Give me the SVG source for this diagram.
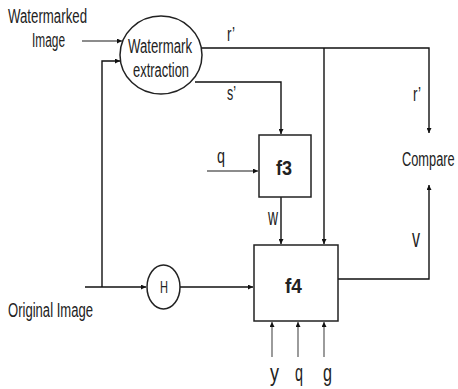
<svg xmlns="http://www.w3.org/2000/svg" width="458" height="389" viewBox="0 0 458 389">
<defs>
<marker id="ah" viewBox="0 0 10 10" refX="10" refY="5" markerWidth="5" markerHeight="5" markerUnits="userSpaceOnUse" orient="auto">
<path d="M0,0 L10,5 L0,10 z" fill="#111"/>
</marker>
<style>
.t{font-family:"Liberation Sans",Arial,sans-serif;fill:#222;font-size:20px;}
.m{text-anchor:middle;}
.b{font-weight:bold;}
.ln{fill:none;stroke:#111;stroke-width:1.4;}
.gl{fill:none;stroke:#666;stroke-width:1.3;}
.shape{fill:#fff;stroke:#222;stroke-width:1.5;}
</style>
</defs>
<rect width="458" height="389" fill="#fff"/>
<g id="connectors">
<path class="gl" d="M82,41 H122" marker-end="url(#ah)"/>
<path class="ln" d="M85,287 H146" marker-end="url(#ah)"/>
<path class="ln" d="M102,287 V61 H120" marker-end="url(#ah)"/>
<path class="ln" d="M180,287 H253" marker-end="url(#ah)"/>
<path class="ln" d="M201,48 H429 V133" marker-end="url(#ah)"/>
<path class="ln" d="M324,48 V244" marker-end="url(#ah)"/>
<path class="ln" d="M195,82 H281 V134" marker-end="url(#ah)"/>
<path class="gl" d="M207,171 H258" marker-end="url(#ah)"/>
<path class="ln" d="M281,197 V244" marker-end="url(#ah)"/>
<path class="ln" d="M338,279 H429 V185" marker-end="url(#ah)"/>
<path class="gl" d="M272,357 V322" marker-end="url(#ah)"/>
<path class="gl" d="M298,357 V322" marker-end="url(#ah)"/>
<path class="gl" d="M324,357 V322" marker-end="url(#ah)"/>
</g>
<g id="label-watermarked-image">
<text class="t" x="8" y="23" textLength="79" lengthAdjust="spacingAndGlyphs">Watermarked</text>
<text class="t" x="32" y="47" textLength="33" lengthAdjust="spacingAndGlyphs">Image</text>
</g>
<g id="label-original-image">
<text class="t" x="8" y="317" textLength="85" lengthAdjust="spacingAndGlyphs">Original Image</text>
</g>
<g id="node-extraction">
<ellipse class="shape" cx="161" cy="55" rx="41" ry="39"/>
<text class="t" x="128" y="53" textLength="64" lengthAdjust="spacingAndGlyphs">Watermark</text>
<text class="t" x="133" y="77" textLength="56" lengthAdjust="spacingAndGlyphs">extraction</text>
</g>
<g id="node-H">
<ellipse class="shape" cx="163.5" cy="287" rx="16.5" ry="22"/>
<text class="t m" x="164" y="293" style="font-size:16px" textLength="8" lengthAdjust="spacingAndGlyphs">H</text>
</g>
<g id="node-f3">
<rect class="shape" x="259" y="135" width="52" height="62"/>
<text class="t b" x="276" y="175" textLength="16" lengthAdjust="spacingAndGlyphs">f3</text>
</g>
<g id="node-f4">
<rect class="shape" x="254" y="245" width="84" height="76"/>
<text class="t b" x="285" y="293" textLength="17" lengthAdjust="spacingAndGlyphs">f4</text>
</g>
<g id="node-compare">
<text class="t" x="0" y="0" transform="translate(402,166) scale(0.64,1)">Compare</text>
</g>
<g id="labels">
<text class="t" x="227" y="41" style="font-size:21px" textLength="8" lengthAdjust="spacingAndGlyphs">r’</text>
<text class="t" x="227" y="100" style="font-size:21px" textLength="9" lengthAdjust="spacingAndGlyphs">s’</text>
<text class="t" x="413" y="101" style="font-size:21px" textLength="8" lengthAdjust="spacingAndGlyphs">r’</text>
<text class="t" x="217" y="163" style="font-size:20px" textLength="8" lengthAdjust="spacingAndGlyphs">q</text>
<text class="t" x="268" y="225" style="font-size:24px" textLength="10" lengthAdjust="spacingAndGlyphs">w</text>
<text class="t" x="412" y="247" style="font-size:26px" textLength="8" lengthAdjust="spacingAndGlyphs">v</text>
<text class="t" x="270" y="381" style="font-size:24px" textLength="9" lengthAdjust="spacingAndGlyphs">y</text>
<text class="t" x="295" y="381" style="font-size:24px" textLength="8" lengthAdjust="spacingAndGlyphs">q</text>
<text class="t" x="323" y="381" style="font-size:24px" textLength="9" lengthAdjust="spacingAndGlyphs">g</text>
</g>
</svg>
